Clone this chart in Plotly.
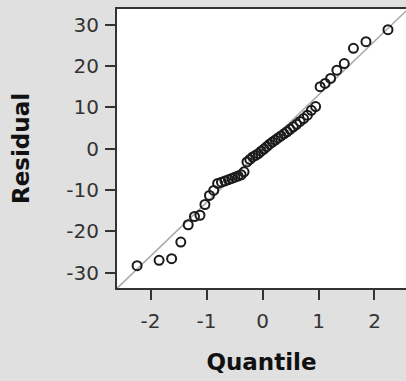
import plotly.graph_objects as go

# Normal quantiles (x) and sorted residuals (y)
quantile = [-2.241, -1.848, -1.624, -1.460, -1.328, -1.216, -1.118, -1.029, -0.948, -0.872,
            -0.802, -0.734, -0.670, -0.609, -0.550, -0.493, -0.437, -0.383, -0.330, -0.278,
            -0.227, -0.176, -0.125, -0.075, -0.025, 0.025, 0.075, 0.125, 0.176, 0.227,
            0.278, 0.330, 0.383, 0.437, 0.493, 0.550, 0.609, 0.670, 0.734, 0.802,
            0.872, 0.948, 1.029, 1.118, 1.216, 1.328, 1.460, 1.624, 1.848, 2.241]
residual = [-28.3, -27.0, -26.6, -22.6, -18.4, -16.4, -16.1, -13.5, -11.3, -10.1,
            -8.4, -8.1, -7.8, -7.5, -7.2, -6.9, -6.6, -6.3, -5.6, -3.2,
            -2.6, -2.0, -1.6, -1.2, -0.6, -0.1, 0.5, 1.1, 1.6, 2.1,
            2.6, 3.1, 3.6, 4.1, 4.7, 5.3, 5.9, 6.6, 7.3, 8.1,
            9.3, 10.2, 15.0, 15.8, 17.0, 19.0, 20.6, 24.3, 25.9, 28.8]

# Reference line y = intercept + slope * x
ref_slope = 13.0
ref_intercept = 0.0

x_range = [-2.60, 2.563]
y_range = [-33.7, 33.8]
x_ticks = [-2, -1, 0, 1, 2]
y_ticks = [-30, -20, -10, 0, 10, 20, 30]

fig = go.Figure()
fig.add_trace(go.Scatter(
    x=x_range,
    y=[ref_intercept + ref_slope * v for v in x_range],
    mode="lines",
    line=dict(color="#a8a8a8", width=1.5),
    hoverinfo="skip",
    showlegend=False,
))
fig.add_trace(go.Scatter(
    x=quantile, y=residual, mode="markers",
    marker=dict(symbol="circle-open", size=9, color="#1a1a1a", line=dict(width=2)),
    showlegend=False,
))

axis_font = dict(family="DejaVu Sans", size=20, color="#333333")
title_font = dict(family="DejaVu Sans", size=23, color="#111111")

fig.update_layout(
    width=406, height=381,
    margin=dict(l=117, r=0, t=9, b=93),
    paper_bgcolor="#e0e0e0",
    plot_bgcolor="#ffffff",
    xaxis=dict(
        range=x_range, tickvals=x_ticks, ticktext=[str(v) for v in x_ticks],
        showgrid=False, zeroline=False,
        showline=True, mirror=True, linecolor="#333333", linewidth=2,
        ticks="outside", ticklen=10, tickwidth=2, tickcolor="#333333",
        tickfont=axis_font, ticklabelstandoff=4,
        title=dict(text="<b>Quantile</b>", font=title_font, standoff=22),
    ),
    yaxis=dict(
        range=y_range, tickvals=y_ticks, ticktext=[str(v) for v in y_ticks],
        showgrid=False, zeroline=False,
        showline=True, mirror=False, linecolor="#333333", linewidth=2,
        ticks="outside", ticklen=10, tickwidth=2, tickcolor="#333333",
        tickfont=axis_font, ticklabelstandoff=2,
        title=dict(text="<b>Residual</b>", font=title_font, standoff=30),
    ),
)

fig.write_html("out.html")
